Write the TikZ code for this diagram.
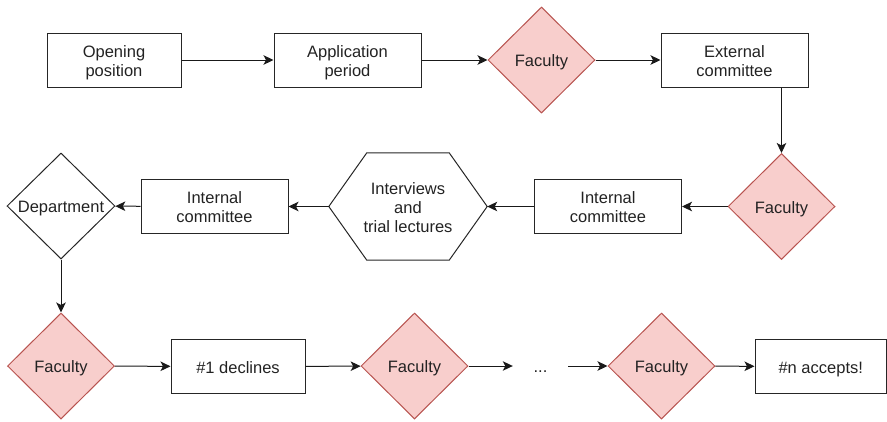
\documentclass[tikz,border=0pt]{standalone}
\usepackage{fontspec}
\setmainfont{Liberation Sans}
\usetikzlibrary{shapes.geometric,arrows.meta}
\definecolor{pinkfill}{HTML}{F8CECC}
\definecolor{pinkline}{HTML}{B85450}
\definecolor{txt}{HTML}{222222}
\newcommand\tstr{\rule{0pt}{16.5pt}}
\newcommand\bstr{\rule[-3.5pt]{0pt}{0pt}}
\begin{document}
\begin{tikzpicture}[x=1pt,y=-1pt,
  every node/.style={font=\fontsize{16.5}{19}\selectfont, text=txt},
  box/.style={draw=black!85, line width=1pt, rectangle, minimum width=#1, minimum height=54, inner sep=0, align=center},
  box/.default=147,
  fac/.style={diamond, aspect=1, draw=pinkline, fill=pinkfill, line width=1pt, minimum width=107, minimum height=106, inner sep=0},
  dept/.style={diamond, aspect=1, draw=black!85, line width=1pt, minimum width=108, minimum height=106, inner sep=0},
  arr/.style={-{Stealth[length=10pt,width=9.5pt,inset=2.5pt]}, line width=1pt, black!90}
]
\useasboundingbox (0,0) rectangle (887,421);
% row 1
\node[box=134] (op) at (114,60) {\tstr Opening\\position\bstr};
\node[box] (ap) at (347.5,60) {\tstr Application\\period\bstr};
\node[fac] (f1) at (541.5,60) {\tstr\makebox[0pt]{Faculty}\bstr};
\node[box] (ext) at (734.5,60) {\tstr External\\committee\bstr};
% row 2
\node[fac] (f2) at (781.5,206.5) {\tstr\makebox[0pt]{Faculty}\bstr};
\node[box] (ic1) at (608,206.5) {\tstr Internal\\committee\bstr};
\node[minimum width=158, minimum height=107, inner sep=0, align=center] (hex) at (408,206.5) {\tstr Interviews\\and\\trial lectures\bstr};
\draw[black!85, line width=1pt] (hex.west) -- ([xshift=38]hex.north west) -- ([xshift=-38]hex.north east) -- (hex.east) -- ([xshift=-38]hex.south east) -- ([xshift=38]hex.south west) -- cycle;
\node[box] (ic2) at (214.5,206.5) {\tstr Internal\\committee\bstr};
\node[dept] (dep) at (61,206) {\tstr\makebox[0pt]{Department}\bstr};
% row 3
\node[fac] (f3) at (61,366) {\tstr\makebox[0pt]{Faculty}\bstr};
\node[box=134] (d1) at (238,366.5) {\tstr\#1 declines\bstr};
\node[fac] (f4) at (414.5,366) {\tstr\makebox[0pt]{Faculty}\bstr};
\node[minimum width=55, inner sep=0] (dots) at (540.5,366) {\tstr...\bstr};
\node[fac] (f5) at (661.5,366) {\tstr\makebox[0pt]{Faculty}\bstr};
\node[box=131.5] (na) at (820.75,366.5) {\tstr\#n accepts!\bstr};
% connectors
\draw[arr] (op) -- (ap);
\draw[arr] (ap) -- (f1);
\draw[arr] (f1) -- (ext);
\draw[arr] (ext.south -| f2.north) -- (f2.north);
\draw[arr] (f2) -- (ic1);
\draw[arr] (ic1) -- (hex.east);
\draw[arr] (hex.west) -- (ic2);
\draw[arr] (ic2) -- (dep);
\draw[arr] (dep) -- (f3);
\draw[arr] (f3) -- (d1);
\draw[arr] (d1) -- (f4);
\draw[arr] (f4) -- (dots);
\draw[arr] (dots) -- (f5);
\draw[arr] (f5) -- (na);
\end{tikzpicture}
\end{document}
